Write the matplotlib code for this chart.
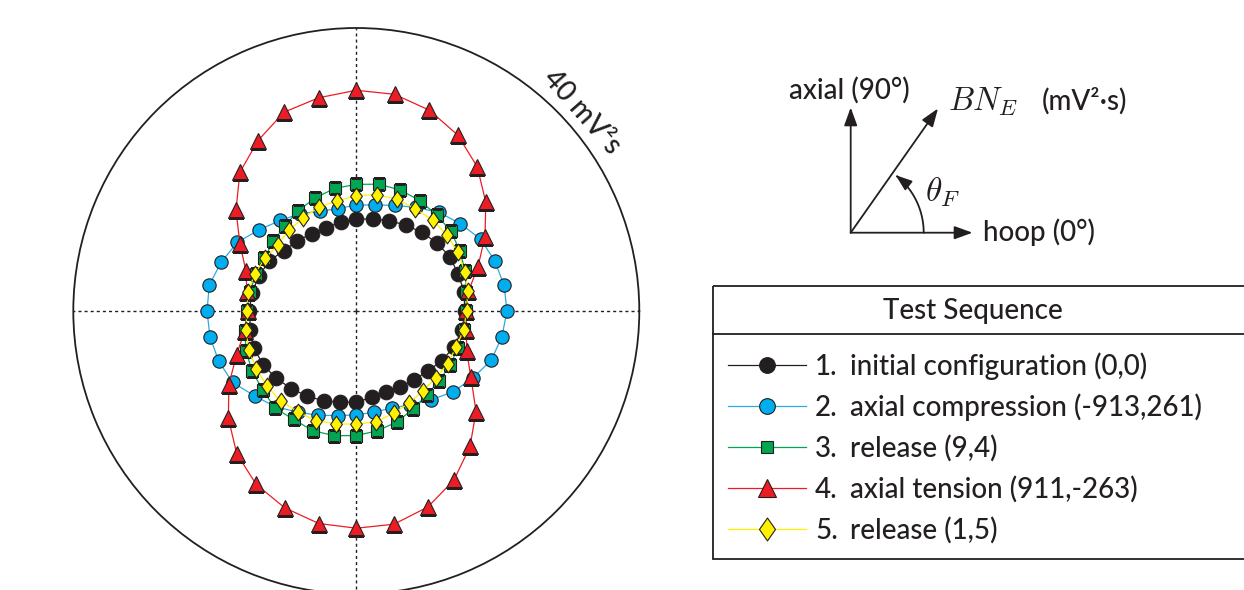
import numpy as np
import matplotlib
matplotlib.use("Agg")
import matplotlib.pyplot as plt
from matplotlib.path import Path
from matplotlib.patches import FancyArrowPatch, Rectangle
from matplotlib.lines import Line2D

plt.rcParams['font.family'] = ['Lato', 'DejaVu Sans']
plt.rcParams['mathtext.fontset'] = 'cm'

# ---------------- data ----------------
angles_deg = list(range(0, 360, 10))
r_max = 40
scale_label = "40 mV²s"

initial = [15.3, 15.5, 15.3, 15.3, 14.9, 14.5, 14.0, 13.6, 13.2, 13.0, 12.8, 12.5,
           12.6, 13.0, 13.3, 14.2, 14.6, 15.0, 15.1, 15.2, 15.4, 15.2, 14.8, 14.3,
           13.9, 13.5, 13.1, 12.9, 12.4, 12.2, 12.4, 12.7, 13.2, 14.0, 14.7, 15.2]
compression = [21.3, 21.2, 20.8, 20.3, 19.2, 18.2, 16.9, 15.9, 15.2, 15.0, 14.7, 15.0,
               15.9, 16.7, 17.9, 19.4, 20.3, 21.1, 21.1, 21.0, 20.7, 20.2, 18.7, 17.7,
               16.5, 15.7, 15.0, 14.7, 14.5, 14.6, 15.3, 16.4, 17.8, 19.0, 20.3, 20.9]
release_3 = [15.5, 15.8, 16.4, 16.9, 17.5, 17.7, 18.0, 18.2, 18.2, 17.9, 17.6, 17.0,
             16.4, 15.7, 15.3, 15.0, 15.1, 15.3, 15.5, 16.0, 16.6, 17.0, 17.3, 17.9,
             17.7, 18.0, 17.9, 17.6, 17.2, 16.7, 16.0, 15.5, 15.3, 15.3, 15.3, 15.4]
tension = [15.5, 16.1, 18.3, 21.0, 23.9, 26.6, 28.7, 30.2, 31.1, 31.2, 30.6, 29.9,
           27.8, 25.6, 22.2, 19.0, 16.6, 15.7, 15.3, 16.0, 18.0, 20.8, 23.6, 26.3,
           28.3, 29.6, 30.5, 30.7, 30.6, 29.5, 27.6, 25.0, 22.1, 18.7, 16.6, 15.8]
release_5 = [15.6, 16.0, 16.3, 16.6, 16.7, 16.8, 16.7, 16.8, 16.7, 16.3, 15.8, 15.6,
             15.1, 14.9, 14.5, 14.9, 15.3, 15.5, 15.5, 15.8, 16.2, 16.3, 16.5, 16.6,
             16.5, 16.5, 16.2, 16.0, 15.9, 15.4, 15.0, 14.7, 14.7, 14.9, 15.0, 15.4]

series = [initial, compression, release_3, tension, release_5]
numbers = ["1.", "2.", "3.", "4.", "5."]
labels = ["initial configuration (0,0)", "axial compression (-913,261)",
          "release (9,4)", "axial tension (911,-263)", "release (1,5)"]
legend_title = "Test Sequence"

# ---------------- styles ----------------
diamond = Path([(0, 1), (0.7, 0), (0, -1), (-0.7, 0), (0, 1)],
               [Path.MOVETO, Path.LINETO, Path.LINETO, Path.LINETO, Path.CLOSEPOLY])
line_colors = ['#231F20', '#29ABE2', '#00A651', '#ED1C24', '#FFF200']
fill_colors = ['#231F20', '#00AEEF', '#00A651', '#ED1C24', '#FFF200']
markers = ['o', 'o', 's', '^', diamond]
msizes = [10.5, 9.6, 8.4, 12.2, 12.0]
leg_msizes = [11.3, 11.3, 9.0, 13.5, 16.5]
edge = '#231F20'

W, H = 1244, 590
fig = plt.figure(figsize=(W / 100, H / 100), dpi=100)
fig.patch.set_facecolor('white')

cx, cy, R = 356.3, 311.0, 283.0
ax = fig.add_axes([(cx - R) / W, (H - cy - R) / H, 2 * R / W, 2 * R / H],
                  projection='polar')
ax.set_ylim(0, r_max)
ax.set_xticks([])
ax.set_yticks([])
ax.grid(False)
ax.spines['polar'].set_linewidth(1.3)
ax.spines['polar'].set_color('#231F20')

for a in [0, 90, 180, 270]:
    ax.plot([np.deg2rad(a)] * 2, [0, r_max], color='#231F20', lw=1.0,
            ls=(0, (2.2, 2.2)), zorder=1)

theta = np.deg2rad(np.array(angles_deg + [angles_deg[0]]))
for i, s in enumerate(series):
    r = np.array(s + [s[0]])
    ax.plot(theta, r, color=line_colors[i], lw=0.9, zorder=2 + i)
    ax.plot(theta[:-1], r[:-1], ls='none', marker=markers[i], ms=msizes[i],
            mfc=fill_colors[i], mec=edge, mew=0.8, zorder=2 + i)

FW = 'medium'
ax.text(np.deg2rad(41.4), r_max * 301 / 283, scale_label, rotation=-48.5,
        rotation_mode='anchor', ha='center', va='center', fontsize=20,
        color='#231F20', fontweight=FW)

# ---------------- overlay (diagram + legend) ----------------
ov = fig.add_axes([0, 0, 1, 1])
ov.set_xlim(0, W)
ov.set_ylim(H, 0)
ov.axis('off')

txt = '#231F20'
ox, oy = 850.7, 232.7
astyle = '-|>,head_length=0.55,head_width=0.2'
for tip in [(850.7, 107.5), (972.5, 232.7), (938.0, 108.5)]:
    ov.add_patch(FancyArrowPatch((ox, oy), tip, arrowstyle=astyle,
                                 mutation_scale=20, lw=1.3, color=txt,
                                 shrinkA=0, shrinkB=0))
arc_a = np.deg2rad(np.linspace(0, 52, 40))
arc_r = 73.0
verts = np.column_stack([ox + arc_r * np.cos(arc_a), oy - arc_r * np.sin(arc_a)])
ov.add_patch(FancyArrowPatch(path=Path(verts), arrowstyle=astyle,
                             mutation_scale=18, lw=1.3, color=txt))

ov.text(789, 98.5, "axial (90°)", fontsize=20, color=txt, va='baseline', fontweight=FW)
ov.text(948, 110, r'$BN_E$', fontsize=23.5, color=txt, va='baseline')
ov.text(1042, 110, "(mV²·s)", fontsize=20, color=txt, va='baseline', fontweight=FW)
ov.text(925, 201, r'$\theta_F$', fontsize=24, color=txt, va='baseline')
ov.text(983, 241.5, "hoop (0°)", fontsize=20, color=txt, va='baseline', fontweight=FW)

# legend box
bx0, by0, by1, bsep = 712.5, 286.0, 559.0, 333.5
ov.add_patch(Rectangle((bx0, by0), W + 10 - bx0, by1 - by0, fill=False,
                       lw=1.3, ec='#231F20'))
ov.plot([bx0, W + 10], [bsep, bsep], color='#231F20', lw=1.3)
ov.text(973, 318.5, legend_title, fontsize=20, color=txt, ha='center',
        va='baseline', fontweight=FW)
row_y = [365, 406, 447, 488, 529]
for i in range(len(series)):
    y = row_y[i]
    ov.add_line(Line2D([728, 806], [y, y], color=line_colors[i], lw=0.9))
    ov.add_line(Line2D([767], [y], ls='none', marker=markers[i], ms=leg_msizes[i],
                       mfc=fill_colors[i], mec=edge, mew=0.8))
    ov.text(815, y + 10, numbers[i], fontsize=20, color=txt, va='baseline', fontweight=FW)
    ov.text(850, y + 10, labels[i], fontsize=20, color=txt, va='baseline', fontweight=FW)

fig.savefig('out.png', dpi=100, facecolor='white')
